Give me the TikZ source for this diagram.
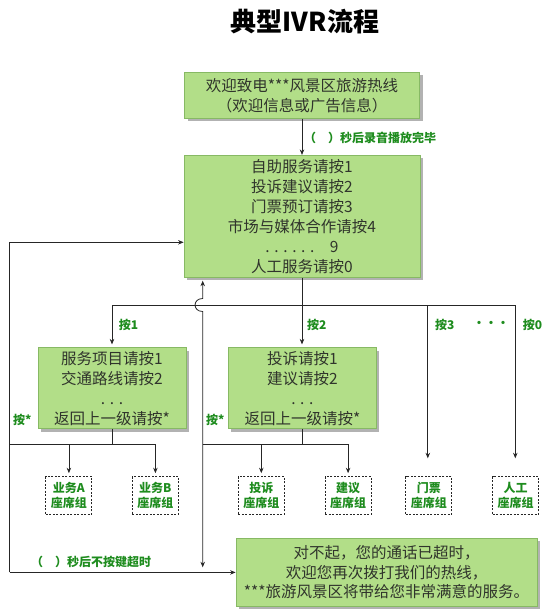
\documentclass[tikz,border=0pt]{standalone}
\usepackage{fontspec}
\setmainfont{Noto Sans CJK SC}
\usetikzlibrary{arrows.meta,shadows}
\definecolor{boxfill}{RGB}{178,222,136}
\definecolor{boxline}{RGB}{135,185,100}
\definecolor{lblgreen}{RGB}{30,140,30}
\definecolor{boxtext}{RGB}{48,52,44}
\begin{document}
\begin{tikzpicture}[x=1pt,y=-1pt,
  >={Stealth[length=5.5pt,width=4.5pt]},
  greenbox/.style={draw=boxline, line width=0.8pt, fill=boxfill, text=boxtext, align=center, inner sep=0pt,
    font=\fontsize{15.5}{20}\selectfont,
    drop shadow={shadow xshift=3pt, shadow yshift=-3pt, fill=black, opacity=0.3}},
  groupbox/.style={draw=black!85, dash pattern=on 2pt off 1.5pt, line width=1pt, fill=white, text=lblgreen,
    align=center, inner sep=0pt, minimum width=46pt, minimum height=37.6pt,
    font=\fontsize{12}{15.5}\selectfont\bfseries},
  lbl/.style={text=lblgreen, font=\fontsize{12}{14}\selectfont\bfseries, inner sep=0pt, anchor=west},
  conn/.style={draw=black!85, line width=0.8pt},
  arr/.style={conn, ->},
]
\useasboundingbox (0,0) rectangle (548,615);

% title
\node[font=\fontsize{26}{30}\selectfont\bfseries, inner sep=0pt] (title) at (305,22) {典型IVR流程};

% green boxes
\node[greenbox, minimum width=235pt, minimum height=46pt] (welcome) at (302,95.3)
  {欢迎致电***风景区旅游热线\\（欢迎信息或广告信息）};
\node[greenbox, minimum width=236pt, minimum height=122pt] (menu) at (302,216.3)
  {自助服务请按1\\投诉建议请按2\\门票预订请按3\\市场与媒体合作请按4\\. . . . . .\quad 9\\人工服务请按0};
\node[greenbox, minimum width=148pt, minimum height=81pt] (svc) at (112,388.3)
  {服务项目请按1\\交通路线请按2\\. . .\\返回上一级请按*};
\node[greenbox, minimum width=148pt, minimum height=81pt] (cmp) at (302.4,388.3)
  {投诉请按1\\建议请按2\\. . .\\返回上一级请按*};
\node[greenbox, minimum width=301pt, minimum height=68pt, font=\fontsize{15.5}{19.5}\selectfont] (timeout) at (386.5,572.4)
  {对不起，您的通话已超时，\\欢迎您再次拨打我们的热线，\\***旅游风景区将带给您非常满意的服务。};

% agent groups
\node[groupbox] (ga) at (68.9,495.5) {业务A\\座席组};
\node[groupbox] (gb) at (155.4,495.5) {业务B\\座席组};
\node[groupbox] (gc) at (261.3,495.5) {投诉\\座席组};
\node[groupbox] (gd) at (348.1,495.5) {建议\\座席组};
\node[groupbox] (ge) at (428.8,495.5) {门票\\座席组};
\node[groupbox] (gf) at (515.5,495.5) {人工\\座席组};

% coordinates
\coordinate (d1) at (112,305);
\coordinate (d3) at (427.8,305);
\coordinate (d0) at (515.3,305);
\coordinate (e3) at (427.8,458.3);
\coordinate (e0) at (515.3,458.3);
\coordinate (l1) at (9.5,242.3);
\coordinate (l2) at (9.5,572.4);
\coordinate (s1) at (112,444.3);
\coordinate (s2) at (302.4,444.3);
\coordinate (h1) at (202.7,567.3);
\coordinate (hA) at (202.7,311.5);
\coordinate (hB) at (202.7,298.5);

% connectors
\draw[arr] (welcome) -- (menu);
\draw[arr, shorten >=3pt] (menu.south) -- (menu.south |- cmp.north);
\draw[conn] (d1) -- (d0);
\draw[arr, shorten >=3pt] (d1) -- (svc.north);
\draw[arr] (d3) -- (e3);
\draw[arr] (d0) -- (e0);

% left loop
\draw[arr] (l2) -- (l1) -- (menu.west |- l1);
\draw[arr] (l2) -- (timeout.west);

% hop line
\draw[conn, <->, shorten >=3pt] (h1) -- (hA) .. controls (192.5,311.5) and (192.5,298.5) .. (hB) -- (hB |- menu.south);

% lower branches
\draw[conn] (svc.south) -- (s1);
\draw[conn] (l1 |- s1) -- (gb.north |- s1);
\draw[arr, shorten >=3pt] (ga.north |- s1) -- (ga.north);
\draw[arr, shorten >=3pt] (gb.north |- s1) -- (gb.north);
\draw[conn] (cmp.south) -- (s2);
\draw[conn] (hA |- s2) -- (gd.north |- s2);
\draw[arr, shorten >=3pt] (gc.north |- s2) -- (gc.north);
\draw[arr, shorten >=3pt] (gd.north |- s2) -- (gd.north);

% labels
\node[lbl] (lw) at (304,138.3) {（　）秒后录音播放完毕};
\node[lbl] (lt) at (31,562.3) {（　）秒后不按键超时};
\node[lbl] (k1) at (118.7,325) {按1};
\node[lbl] (k2) at (307,325) {按2};
\node[lbl] (k3) at (435,325) {按3};
\node[lbl, anchor=center] (kd) at (491,324) {···};
\node[lbl] (k0) at (522.7,325) {按0};
\node[lbl] (ks1) at (13,420) {按*};
\node[lbl] (ks2) at (206,420) {按*};
\end{tikzpicture}
\end{document}
